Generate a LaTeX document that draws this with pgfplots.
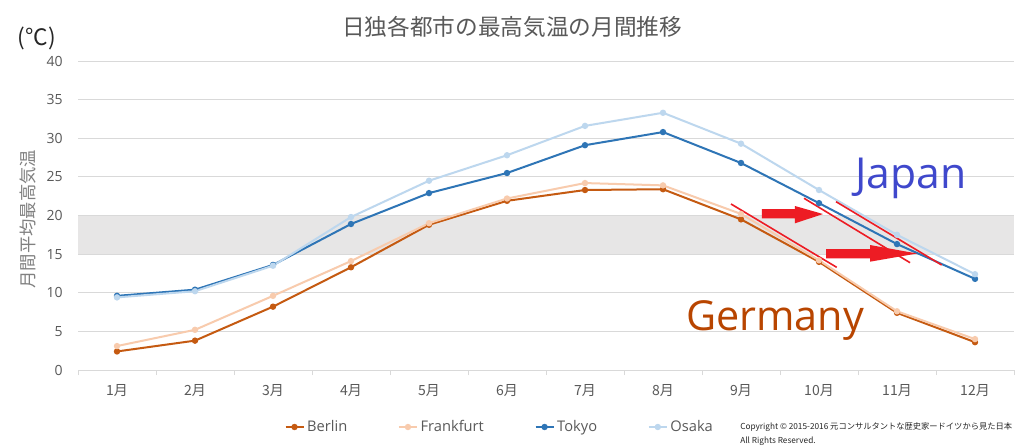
\documentclass[border=0pt]{standalone}
\usepackage{fontspec}
\setmainfont{Open Sans}
\newfontfamily\jp{Noto Sans CJK JP}
\usepackage{pgfplots}
\pgfplotsset{compat=1.18}
\definecolor{berlin}{HTML}{C55A11}
\definecolor{frank}{HTML}{F8CBAD}
\definecolor{tokyo}{HTML}{2E75B6}
\definecolor{osaka}{HTML}{BDD7EE}
\definecolor{txt}{HTML}{595959}
\definecolor{grd}{HTML}{D9D9D9}
\definecolor{band}{HTML}{E7E6E6}
\definecolor{annred}{HTML}{ED1C24}
\definecolor{japan}{HTML}{3F48CC}
\definecolor{germany}{HTML}{B84500}
\begin{document}
\begin{tikzpicture}[x=1pt,y=1pt]
\path[use as bounding box, fill=white] (0,0) rectangle (768,335.25);
\begin{axis}[
  at={(58.5pt,57.75pt)}, anchor=south west, scale only axis,
  width=702pt, height=231.75pt,
  xmin=0.5, xmax=12.5, ymin=0, ymax=40,
  xtick={1,...,12},
  xticklabels={1月,2月,3月,4月,5月,6月,7月,8月,9月,10月,11月,12月},
  minor xtick={0.5,1.5,...,12.5},
  major tick length=0pt, minor tick length=3.75pt,
  tick align=outside,
  ytick={0,5,...,40},
  ymajorgrids, grid style={grd, line width=0.75pt},
  axis x line*=bottom, axis y line*=left,
  x axis line style={grd, line width=0.75pt, -},
  y axis line style={draw=none},
  minor tick style={grd, line width=0.75pt},
  major tick style={draw=none},
  x tick label style={font=\jp\fontsize{10.5}{12}\selectfont, text=txt, yshift=-7pt},
  y tick label style={font=\fontsize{10.5}{12}\selectfont, text=txt, xshift=-8pt},
  /pgf/number format/assume math mode=true,
  legend style={at={(0.4509,-0.1845)}, anchor=center, draw=none, fill=none,
    legend columns=4, font=\fontsize{11}{13}\selectfont, text=txt},
  /tikz/every even column/.append style={column sep=36pt},
  legend image code/.code={\draw[mark repeat=2,mark phase=2,#1] plot coordinates {(0pt,0pt)(6.75pt,0pt)(13.5pt,0pt)};},
  every axis plot/.append style={line width=1.5pt, mark=*, mark size=1.6pt},
  clip=false,
]
\fill[band] (axis cs:0.5,15) rectangle (axis cs:12.5,20);
\addplot[berlin, mark options={fill=berlin}] coordinates {(1,2.4)(2,3.8)(3,8.2)(4,13.3)(5,18.8)(6,21.9)(7,23.3)(8,23.4)(9,19.5)(10,14.0)(11,7.4)(12,3.6)};
\addlegendentry{Berlin}
\addplot[frank, mark options={fill=frank}] coordinates {(1,3.1)(2,5.2)(3,9.6)(4,14.1)(5,19.0)(6,22.2)(7,24.2)(8,23.9)(9,20.2)(10,14.2)(11,7.6)(12,4.0)};
\addlegendentry{Frankfurt}
\addplot[tokyo, mark options={fill=tokyo}] coordinates {(1,9.6)(2,10.4)(3,13.6)(4,18.9)(5,22.9)(6,25.5)(7,29.1)(8,30.8)(9,26.8)(10,21.6)(11,16.3)(12,11.8)};
\addlegendentry{Tokyo}
\addplot[osaka, mark options={fill=osaka}] coordinates {(1,9.4)(2,10.2)(3,13.5)(4,19.8)(5,24.5)(6,27.8)(7,31.6)(8,33.3)(9,29.3)(10,23.3)(11,17.5)(12,12.4)};
\addlegendentry{Osaka}
% annotations
\draw[annred, line width=1.2pt] (axis cs:8.872,21.49) -- (axis cs:10.227,13.29);
\draw[annred, line width=1.2pt] (axis cs:9.808,22.23) -- (axis cs:11.167,13.89);
\draw[annred, line width=1.2pt] (axis cs:10.218,21.79) -- (axis cs:11.573,13.59);
\fill[annred] (axis cs:9.269,20.84) -- (axis cs:9.692,20.84) -- (axis cs:9.692,21.23) -- (axis cs:10.051,20.19) -- (axis cs:9.692,18.99) -- (axis cs:9.692,19.64) -- (axis cs:9.269,19.64) -- cycle;
\fill[annred] (axis cs:10.09,15.66) -- (axis cs:10.654,15.66) -- (axis cs:10.654,16.18) -- (axis cs:11.256,15.08) -- (axis cs:10.654,14.02) -- (axis cs:10.654,14.46) -- (axis cs:10.09,14.46) -- cycle;
\end{axis}
\node[font=\jp\fontsize{17}{19}\selectfont, text=txt] at (384,315) {日独各都市の最高気温の月間推移};
\node[font=\jp\fontsize{17}{19}\selectfont, text={black!85}] at (27.75,306.75) {(°C)};
\node[font=\jp\fontsize{13}{15}\selectfont, text={black!50}, rotate=90] at (21,171) {月間平均最高気温};
\node[font=\fontsize{32}{36}\selectfont, text=japan, anchor=base] at (683.25,193.5) {Japan};
\node[font=\fontsize{31}{36}\selectfont, text=germany, anchor=base] at (581.25,87.75) {Germany};
\node[font=\jp\fontsize{6.2}{7}\selectfont, text=black!85, anchor=west, inner sep=0pt] at (555,15) {Copyright © 2015-2016 元コンサルタントな歴史家ードイツから見た日本};
\node[font=\jp\fontsize{6.2}{7}\selectfont, text=black!85, anchor=west, inner sep=0pt] at (555,4.5) {All Rights Reserved.};
\end{tikzpicture}
\end{document}
